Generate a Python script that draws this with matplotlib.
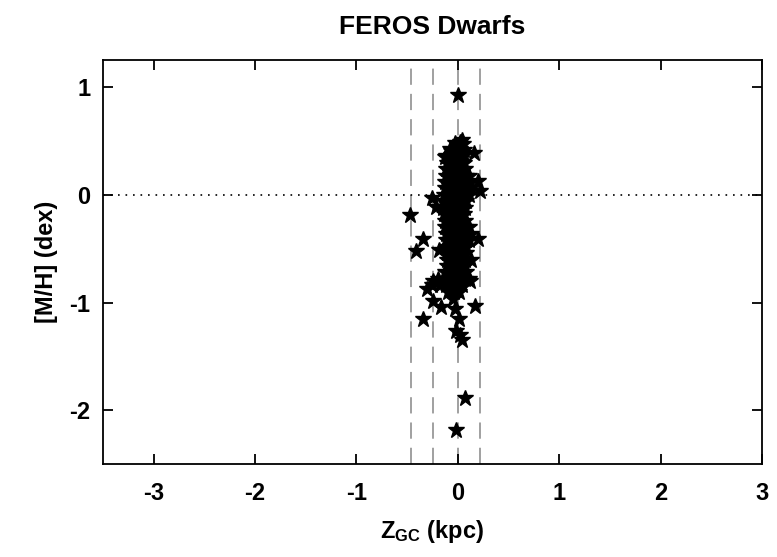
import matplotlib
matplotlib.use('Agg')
import matplotlib.pyplot as plt

plt.rcParams['font.family'] = ['Liberation Sans', 'DejaVu Sans']
plt.rcParams['font.weight'] = 'bold'
plt.rcParams['mathtext.fontset'] = 'custom'
plt.rcParams['mathtext.rm'] = 'Liberation Sans:bold'
plt.rcParams['mathtext.default'] = 'rm'

# Z_GC (kpc) and [M/H] (dex) for each star
zgc = [
    # dense core, row by row
    -0.03, 0.02, 0.05,
    -0.08, -0.03, 0.02, 0.06,
    -0.12, -0.07, -0.02, 0.03, 0.06,
    -0.11, -0.06, -0.01, 0.04, 0.06,
    -0.12, -0.07, -0.02, 0.03, 0.07,
    -0.12, -0.07, -0.02, 0.03, 0.08, 0.11,
    -0.13, -0.08, -0.03, 0.02, 0.07, 0.12,
    -0.13, -0.08, -0.03, 0.02, 0.07, 0.13,
    -0.14, -0.09, -0.04, 0.01, 0.06, 0.11,
    -0.15, -0.10, -0.05, 0.00, 0.05, 0.08,
    -0.15, -0.10, -0.05, 0.00, 0.05, 0.07,
    -0.14, -0.09, -0.04, 0.01, 0.06,
    -0.13, -0.08, -0.03, 0.02, 0.07,
    -0.13, -0.08, -0.03, 0.02, 0.07, 0.11,
    -0.12, -0.07, -0.02, 0.03, 0.08, 0.13,
    -0.12, -0.07, -0.02, 0.03, 0.08, 0.11,
    -0.12, -0.07, -0.02, 0.03, 0.08,
    -0.11, -0.06, -0.01, 0.04, 0.08,
    -0.11, -0.06, -0.01, 0.04, 0.07,
    -0.11, -0.06, -0.01, 0.04, 0.07,
    -0.13, -0.08, -0.03, 0.02, 0.08,
    -0.20, -0.14, -0.08, -0.03, 0.02, 0.07, 0.11,
    -0.25, -0.18, -0.12, -0.06, -0.01, 0.04,
    -0.10, -0.04, 0.01,
    # edge stars and outliers
    0.00, 0.04, -0.13, -0.07, 0.16, 0.195, 0.215, 0.195, 0.13, 0.12,
    -0.25, -0.22, -0.19, -0.24, -0.47, -0.34, -0.41, -0.30, -0.24, -0.17,
    -0.34, 0.17, -0.05, -0.03, 0.01, -0.015, 0.025, 0.044, 0.07, -0.015,
]
mh = [
    0.48, 0.49, 0.47,
    0.43, 0.42, 0.43, 0.42,
    0.36, 0.37, 0.36, 0.36, 0.37,
    0.30, 0.30, 0.30, 0.30, 0.30,
    0.24, 0.24, 0.24, 0.24, 0.24,
    0.18, 0.18, 0.18, 0.18, 0.18, 0.18,
    0.12, 0.12, 0.12, 0.12, 0.12, 0.12,
    0.06, 0.06, 0.06, 0.06, 0.06, 0.06,
    0.00, 0.00, 0.00, 0.00, 0.00, 0.00,
    -0.06, -0.06, -0.06, -0.06, -0.06, -0.06,
    -0.12, -0.12, -0.12, -0.12, -0.12, -0.12,
    -0.18, -0.18, -0.18, -0.18, -0.18,
    -0.24, -0.24, -0.24, -0.24, -0.24,
    -0.30, -0.30, -0.30, -0.30, -0.30, -0.30,
    -0.36, -0.36, -0.36, -0.36, -0.36, -0.36,
    -0.42, -0.42, -0.42, -0.42, -0.42, -0.42,
    -0.48, -0.48, -0.48, -0.48, -0.48,
    -0.54, -0.54, -0.54, -0.54, -0.54,
    -0.60, -0.60, -0.60, -0.60, -0.60,
    -0.66, -0.66, -0.66, -0.66, -0.66,
    -0.72, -0.72, -0.72, -0.72, -0.72,
    -0.78, -0.78, -0.78, -0.78, -0.78, -0.78, -0.78,
    -0.84, -0.84, -0.84, -0.84, -0.84, -0.84,
    -0.90, -0.90, -0.90,
    0.93, 0.51, 0.35, 0.41, 0.39, 0.13, 0.04, -0.41, -0.60, -0.80,
    -0.03, -0.11, -0.51, -0.80, -0.19, -0.41, -0.52, -0.87, -0.99, -1.04,
    -1.15, -1.03, -0.97, -1.06, -1.15, -1.26, -1.30, -1.35, -1.89, -2.18,
]

vlines = [-0.46, -0.24, 0.0, 0.22]

fig = plt.figure(figsize=(7.77, 5.57), dpi=100)
ax = fig.add_axes([0.1326, 0.167, 0.848, 0.7245])

for xv in vlines:
    ax.axvline(xv, color='#999999', lw=1.3, ls=(0, (9, 5)), zorder=1)
ax.axhline(0, color='black', lw=1.2, ls=(0, (1, 3.5)), zorder=1)

ax.plot(zgc, mh, ls='none', marker='*', ms=12, color='black', mec='black', zorder=3)

ax.set_xlim(-3.5, 3)
ax.set_ylim(-2.5, 1.25)
ax.set_xticks([-3, -2, -1, 0, 1, 2, 3])
ax.set_yticks([-2, -1, 0, 1])
ax.set_xticklabels(['-3', '-2', '-1', '0', '1', '2', '3'])
ax.set_yticklabels(['-2', '-1', '0', '1'])
ax.tick_params(direction='in', length=7, width=1.3, top=True, right=True,
               labelsize=17)
ax.tick_params(axis='x', pad=13)
ax.tick_params(axis='y', pad=9)
for s in ax.spines.values():
    s.set_linewidth(1.3)

ax.set_title('FEROS Dwarfs', fontsize=19, fontweight='bold', pad=19)
ax.set_xlabel(r'Z$_{\rm GC}$ (kpc)', fontsize=17, fontweight='bold', labelpad=9)
ax.set_ylabel('[M/H] (dex)', fontsize=17, fontweight='bold', labelpad=8)

fig.savefig('out.png', dpi=100)
